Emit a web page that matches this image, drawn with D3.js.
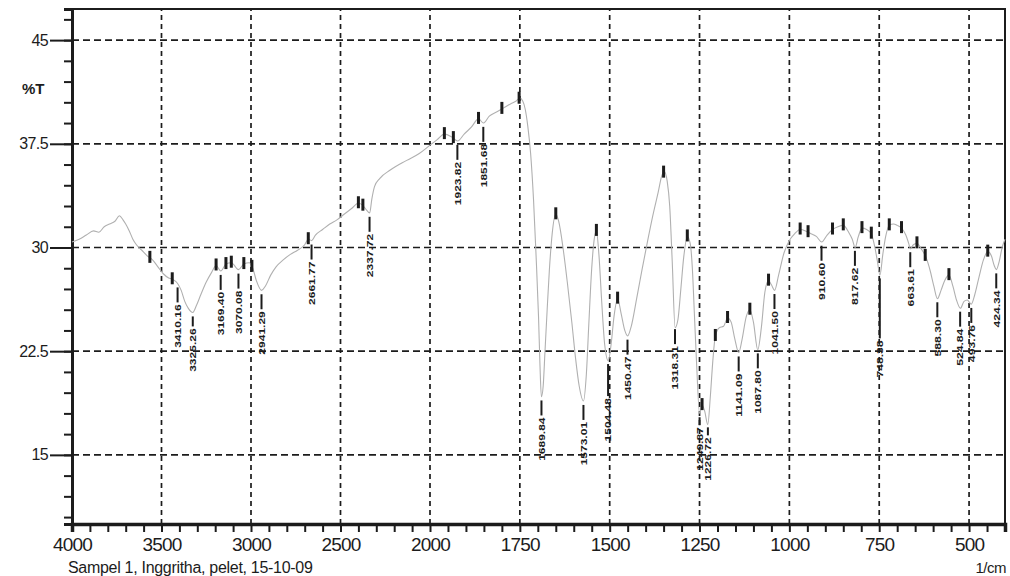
<!DOCTYPE html>
<html>
<head>
<meta charset="utf-8">
<script src="https://cdn.jsdelivr.net/npm/d3@7"></script>
<style>
  body { margin: 0; background: #fff; }
  svg { display: block; font-family: "Liberation Sans", Arial, sans-serif; }
</style>
</head>
<body>
<svg width="1010" height="576"></svg>
<script>
// spectrum (wavenumber in 1/cm, transmittance in %T)
const wavenumber = [
  4000, 3960, 3920, 3880, 3850, 3820, 3790, 3760, 3735, 3715, 3700, 3680, 3660, 3640, 3610,
  3580, 3550, 3520, 3490, 3460, 3440, 3410, 3390, 3370, 3350, 3325, 3305, 3280, 3250, 3220,
  3195, 3169, 3140, 3110, 3070, 3040, 3010, 2990, 2970, 2941, 2920, 2890, 2860, 2820, 2780,
  2740, 2700, 2680, 2661, 2640, 2600, 2560, 2520, 2480, 2440, 2400, 2380, 2360, 2337, 2325,
  2310, 2280, 2222, 2130, 2060, 2000, 1980, 1960, 1940, 1923, 1905, 1885, 1865, 1851, 1835,
  1815, 1795, 1775, 1760, 1750, 1742, 1735, 1728, 1720, 1712, 1705, 1698, 1694, 1690, 1685,
  1680, 1674, 1668, 1660, 1650, 1642, 1630, 1618, 1605, 1595, 1585, 1573, 1565, 1558, 1550,
  1543, 1537, 1530, 1522, 1514, 1504, 1496, 1488, 1478, 1468, 1458, 1450, 1440, 1425, 1410,
  1395, 1380, 1365, 1355, 1348, 1340, 1333, 1326, 1318, 1310, 1302, 1294, 1284, 1276, 1270,
  1264, 1258, 1250, 1243, 1236, 1227, 1220, 1213, 1206, 1195, 1183, 1172, 1162, 1152, 1141,
  1132, 1120, 1110, 1100, 1088, 1078, 1068, 1058, 1050, 1041, 1030, 1015, 1000, 985, 970,
  955, 940, 925, 910, 895, 880, 865, 850, 835, 825, 817, 808, 798, 785, 772,
  762, 755, 748, 740, 732, 722, 710, 700, 688, 676, 668, 663, 655, 645, 633,
  620, 608, 598, 588, 578, 568, 556, 545, 535, 524, 514, 505, 494, 484, 472,
  460, 448, 438, 430, 424, 416, 408, 400
];
const transmittance = [
  30.4, 30.6, 30.9, 31.2, 31.1, 31.5, 31.7, 31.9, 32.3, 32.0, 31.7, 31.2, 30.6, 30.2, 29.8,
  29.4, 29.1, 28.6, 28.1, 27.8, 27.7, 27.4, 26.9, 26.1, 25.6, 25.3, 25.8, 26.6, 27.5, 28.2,
  28.7, 28.3, 28.8, 28.9, 28.4, 28.8, 28.9, 28.5, 27.6, 26.9, 27.2, 28.0, 28.6, 29.1, 29.5,
  29.8, 30.2, 30.6, 30.5, 30.9, 31.3, 31.7, 32.0, 32.4, 32.8, 33.2, 33.1, 32.8, 32.5, 33.5,
  34.4, 35.0, 35.6, 36.3, 36.8, 37.4, 37.8, 38.2, 38.0, 37.7, 38.2, 38.7, 39.3, 39.0, 39.5,
  39.8, 40.1, 40.4, 40.6, 40.8, 40.6, 40.0, 38.8, 36.8, 33.5, 29.5, 25.0, 21.5, 19.2, 20.0,
  22.5, 25.5, 28.3, 31.0, 32.4, 31.9, 30.0, 27.5, 24.5, 22.0, 20.0, 18.9, 20.8, 24.5, 28.5,
  30.6, 31.2, 29.5, 26.0, 23.0, 21.8, 23.0, 25.0, 26.3, 25.2, 24.0, 23.6, 24.3, 26.3, 28.4,
  30.4, 32.3, 34.0, 35.2, 35.5, 34.8, 33.0, 29.0, 24.2, 24.8, 27.0, 29.3, 30.8, 30.3, 28.5,
  25.0, 21.5, 18.0, 18.6, 18.2, 17.2, 19.2, 21.8, 23.6, 24.2, 24.3, 24.9, 24.6, 23.4, 22.4,
  23.3, 25.0, 25.5, 24.6, 22.6, 24.2, 26.8, 27.6, 27.3, 26.9, 28.0, 29.6, 30.5, 31.0, 31.3,
  31.2, 31.0, 30.8, 30.4, 30.9, 31.3, 31.5, 31.6, 31.1, 30.6, 30.0, 30.8, 31.4, 31.3, 31.0,
  30.0, 29.0, 28.0, 29.5, 30.8, 31.6, 31.7, 31.6, 31.4, 30.9, 30.3, 29.9, 30.2, 30.3, 29.9,
  29.3, 28.3, 27.2, 26.3, 26.9, 27.6, 28.0, 27.2, 26.2, 25.6, 26.1, 26.2, 25.9, 26.6, 27.9,
  29.1, 29.7, 29.4, 28.7, 28.4, 29.0, 30.0, 30.6
];

const peakLabels = [
  '3410.16', '3325.26', '3169.40', '3070.08', '2941.29', '2661.77', '2337.72', '1923.82',
  '1851.68', '1689.84', '1573.01', '1504.48', '1450.47', '1318.31', '1249.87', '1226.72',
  '1141.09', '1087.80', '1041.50', '910.60', '817.62', '748.38', '663.61', '588.30',
  '524.84', '493.76', '424.34'
];

// small black marks the instrument puts on the local maxima
const markerWn = [
  3565, 3440, 3195, 3140, 3110, 3040, 2995, 2680, 2400, 2375, 1960, 1935, 1865, 1800, 1752,
  1650, 1537, 1478, 1350, 1284, 1243, 1206, 1172, 1110, 1058, 970, 948, 880, 850, 798,
  772, 722, 688, 645, 622, 556, 448
];

const xTickValues = [4000, 3500, 3000, 2500, 2000, 1750, 1500, 1250, 1000, 750, 500];
const yTickValues = [15, 22.5, 30, 37.5, 45];

const svg = d3.select('svg');
const ink = '#1c1c1c';

// the instrument compresses 4000-2000: piecewise linear axis
const xScale = d3.scaleLinear().domain([4000, 2000, 400]).range([72, 430, 1005]);
const yScale = d3.scaleLinear().domain([10, 47.25]).range([524, 9]);

const data = wavenumber.map((w, i) => ({ wn: w, t: transmittance[i] }));
const tAt = wn => {
  const i = data.findIndex(d => d.wn <= wn);
  if (i <= 0) return data[Math.max(i, 0)].t;
  const a = data[i - 1], b = data[i];
  return a.t + (b.t - a.t) * (a.wn - wn) / (a.wn - b.wn);
};

// grid
svg.append('g').selectAll('line').data(yTickValues)
  .enter().append('line')
    .attr('x1', xScale(4000)).attr('x2', xScale(400))
    .attr('y1', d => yScale(d)).attr('y2', d => yScale(d))
    .attr('stroke', ink).attr('stroke-width', 1.7)
    .attr('stroke-dasharray', '7,4');

svg.append('g').selectAll('line').data(xTickValues.slice(1))
  .enter().append('line')
    .attr('x1', d => xScale(d)).attr('x2', d => xScale(d))
    .attr('y1', yScale(10)).attr('y2', yScale(47.25))
    .attr('stroke', ink).attr('stroke-width', 1.7)
    .attr('stroke-dasharray', '5,4');

// frame top / right
svg.append('path')
  .attr('d', `M${xScale(4000)},${yScale(47.25)}H${xScale(400)}V${yScale(10)}`)
  .attr('fill', 'none').attr('stroke', ink).attr('stroke-width', 2);

// left axis: minor ticks then labelled ticks
const yMinor = d3.range(10.5, 47.3, 1.5);
const yAxisMinor = svg.append('g')
  .attr('transform', `translate(${xScale(4000)},0)`)
  .call(d3.axisLeft(yScale).tickValues(yMinor).tickSize(8).tickFormat(''));
yAxisMinor.selectAll('line').attr('stroke', ink).attr('stroke-width', 2);
yAxisMinor.select('.domain').attr('stroke', ink).attr('stroke-width', 3);

const yAxisMajor = svg.append('g')
  .attr('transform', `translate(${xScale(4000)},0)`)
  .call(d3.axisLeft(yScale).tickValues(yTickValues).tickSize(22).tickPadding(2)
    .tickFormat(d => String(d)));
yAxisMajor.select('.domain').remove();
yAxisMajor.selectAll('line').attr('stroke', ink).attr('stroke-width', 2);
yAxisMajor.selectAll('text')
  .attr('fill', ink).attr('font-size', 16).attr('letter-spacing', -0.6);

svg.append('text')
  .attr('x', 22).attr('y', 94)
  .attr('font-size', 15).attr('font-weight', 'bold').attr('fill', ink)
  .text('%T');

// bottom axis
const xMinor = d3.range(4000, 2000, -100).concat(d3.range(2000, 399, -50));
const xAxisMinor = svg.append('g')
  .attr('transform', `translate(0,${yScale(10)})`)
  .call(d3.axisBottom(xScale).tickValues(xMinor).tickSize(8).tickFormat(''));
xAxisMinor.selectAll('line').attr('stroke', ink).attr('stroke-width', 2);
xAxisMinor.select('.domain').attr('stroke', ink).attr('stroke-width', 3.5);

const xAxisMajor = svg.append('g')
  .attr('transform', `translate(0,${yScale(10)})`)
  .call(d3.axisBottom(xScale).tickValues(xTickValues).tickSize(0).tickPadding(14)
    .tickFormat(d => String(d)));
xAxisMajor.select('.domain').remove();
xAxisMajor.selectAll('text')
  .attr('fill', ink).attr('font-size', 19).attr('letter-spacing', -0.8);

svg.append('text')
  .attr('x', 68).attr('y', 573)
  .attr('font-size', 16).attr('fill', ink).attr('letter-spacing', -0.3)
  .text('Sampel 1, Inggritha, pelet, 15-10-09');

svg.append('text')
  .attr('x', 1006).attr('y', 573).attr('text-anchor', 'end')
  .attr('font-size', 15).attr('fill', ink).attr('letter-spacing', -0.5)
  .text('1/cm');

// spectrum
const line = d3.line()
  .x(d => xScale(d.wn))
  .y(d => yScale(d.t))
  .curve(d3.curveMonotoneX);

svg.append('path')
  .datum(data)
  .attr('d', line)
  .attr('fill', 'none')
  .attr('stroke', '#b0b0b0')
  .attr('stroke-width', 1.1);

// maxima marks
svg.append('g').selectAll('rect').data(markerWn)
  .enter().append('rect')
    .attr('x', d => xScale(d) - 1.5)
    .attr('y', d => yScale(tAt(d)) - 7)
    .attr('width', 3)
    .attr('height', 12)
    .attr('fill', ink);

// peak labels: stem below the minimum, then text reading upward
const stemLen = { '1504.48': 32, '748.38': 60, '3325.26': 10, '1249.87': 8, '1226.72': 8 };
const peaks = peakLabels.map(s => {
  const wn = +s;
  const y0 = yScale(tAt(wn)) + 4;
  const len = stemLen[s] || 15;
  return { s, px: xScale(wn), y0, y1: y0 + len };
});

const pg = svg.append('g');
pg.selectAll('line').data(peaks)
  .enter().append('line')
    .attr('x1', d => d.px).attr('x2', d => d.px)
    .attr('y1', d => d.y0).attr('y2', d => d.y1)
    .attr('stroke', ink).attr('stroke-width', 2);

pg.selectAll('text').data(peaks)
  .enter().append('text')
    .attr('transform', d => `translate(${d.px},${d.y1 + 2}) rotate(-90)`)
    .attr('text-anchor', 'end')
    .attr('dy', '0.36em')
    .attr('font-size', 9)
    .attr('font-weight', 'bold')
    .attr('fill', ink)
    .attr('textLength', d => d.s.length * 6.2)
    .attr('lengthAdjust', 'spacingAndGlyphs')
    .text(d => d.s);
</script>
</body>
</html>
